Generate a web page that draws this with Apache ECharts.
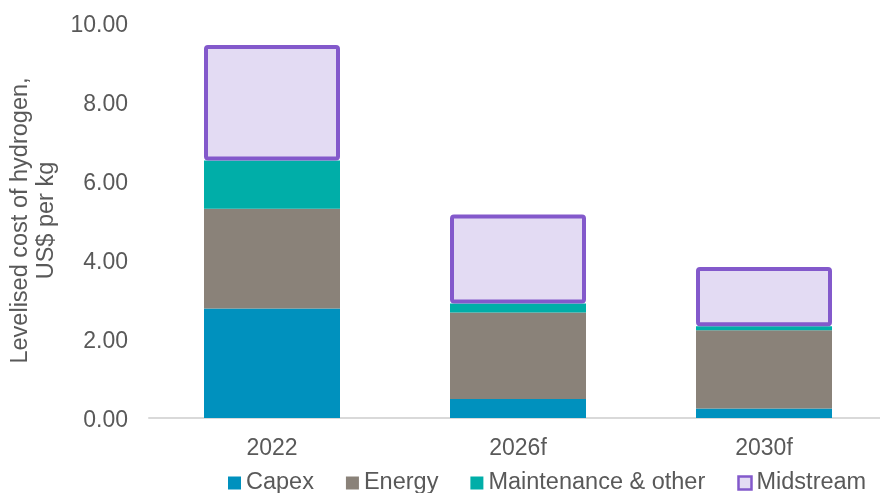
<!DOCTYPE html>
<html>
<head>
<meta charset="utf-8">
<script src="https://cdn.jsdelivr.net/npm/echarts@6/dist/echarts.min.js"></script>
<style>html,body{margin:0;padding:0;background:#fff}#c{width:880px;height:493px}</style>
</head>
<body>
<div id="c"></div>
<script>
const categories = ['2022', '2026f', '2030f'];
const capex = [2.77, 0.48, 0.24];
const energy = [2.53, 2.19, 1.98];
const maintenance = [1.22, 0.23, 0.10];
const midstream = [2.92, 2.25, 1.50];
const yTicks = [0, 2, 4, 6, 8, 10];

const FONT = '"Liberation Sans", Arial, sans-serif';
const TXT = '#595959';
const chart = echarts.init(document.getElementById('c'), null, {renderer: 'canvas'});
chart.setOption({
  animation: false,
  textStyle: {fontFamily: FONT},
  grid: {left: 149, top: 23, width: 738, height: 395, outerBoundsMode: 'none', containLabel: false},
  legend: {
    left: 228, top: 471, padding: 0, itemWidth: 13, itemHeight: 13, itemGap: 32,
    textStyle: {fontFamily: FONT, fontSize: 23.5, color: TXT},
    data: [
      {name: 'Capex', icon: 'rect'},
      {name: 'Energy', icon: 'rect'},
      {name: 'Maintenance & other', icon: 'rect'},
      {name: 'Midstream', icon: 'rect', itemStyle: {borderWidth: 2.5, borderColor: '#8359CB', color: '#E3DBF3'}}
    ]
  },
  xAxis: {
    type: 'category', data: categories,
    axisLine: {show: true, lineStyle: {color: '#D9D9D9', width: 2}},
    axisTick: {show: false},
    axisLabel: {fontFamily: FONT, fontSize: 23, color: TXT, margin: 19}
  },
  yAxis: {
    type: 'value', min: yTicks[0], max: yTicks[yTicks.length - 1], interval: 2,
    name: 'Levelised cost of hydrogen,\nUS$ per kg',
    nameLocation: 'middle', nameGap: 88,
    nameTextStyle: {fontFamily: FONT, fontSize: 23.5, color: TXT, lineHeight: 26},
    axisLine: {show: false}, axisTick: {show: false}, splitLine: {show: false},
    axisLabel: {fontFamily: FONT, fontSize: 23, color: TXT, margin: 21,
      verticalAlign: 'top', lineHeight: 6,
      formatter: v => v.toFixed(2)}
  },
  series: [
    {name: 'Capex', type: 'bar', stack: 'total', data: capex, barWidth: 136,
      itemStyle: {color: '#0091BE'}},
    {name: 'Energy', type: 'bar', stack: 'total', data: energy, barWidth: 136,
      itemStyle: {color: '#8A8279'}},
    {name: 'Maintenance & other', type: 'bar', stack: 'total', data: maintenance, barWidth: 136,
      itemStyle: {color: '#00AEA8'}},
    {name: 'Midstream', type: 'bar', stack: 'total', data: midstream, barWidth: 136,
      itemStyle: {color: '#E3DBF3', borderColor: '#8359CB', borderWidth: 4, borderRadius: 2}}
  ]
});
</script>
</body>
</html>
